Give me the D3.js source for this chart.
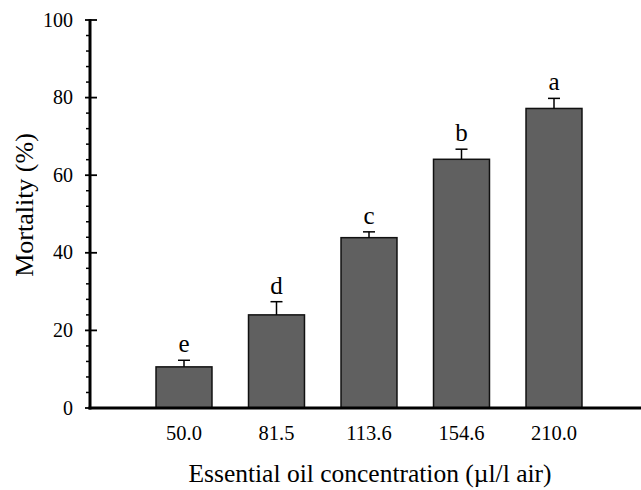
<!DOCTYPE html>
<html>
<head>
<meta charset="utf-8">
<script src="https://cdn.jsdelivr.net/npm/d3@7"></script>
<style>
  body { margin: 0; background: #fff; }
  text { font-family: "Liberation Serif", "Times New Roman", serif; fill: #000; }
</style>
</head>
<body>
<div id="chart"></div>
<script>
// chart data
const concentrations = ["50.0", "81.5", "113.6", "154.6", "210.0"];
const mortality = [10.6, 24.0, 43.9, 64.1, 77.2];
const errors = [1.7, 3.4, 1.5, 2.6, 2.6];
const letters = ["e", "d", "c", "b", "a"];
const yTicks = [0, 20, 40, 60, 80, 100];

const width = 641, height = 490;

let svg = d3.select("#chart")
    .append("svg")
    .attr("width", width)
    .attr("height", height);

let x = d3.scaleBand()
    .domain(concentrations)
    .range([137.75, 600.25])
    .paddingInner(0.395)
    .paddingOuter(0.1975);

let y = d3.scaleLinear()
    .domain([0, 100])
    .range([408, 20]);

const axisX = 90;

// minor ticks every 4
let minor = d3.range(0, 101, 4).filter(v => v % 20 !== 0);
svg.append("g").selectAll("line").data(minor).enter()
    .append("line")
    .attr("x1", axisX - 4).attr("x2", axisX)
    .attr("y1", d => y(d)).attr("y2", d => y(d))
    .attr("stroke", "#000").attr("stroke-width", 1.5);

// major ticks crossing the axis
svg.append("g").selectAll("line").data(yTicks).enter()
    .append("line")
    .attr("x1", axisX - 5).attr("x2", axisX + 7)
    .attr("y1", d => y(d)).attr("y2", d => y(d))
    .attr("stroke", "#000").attr("stroke-width", 1.8);

svg.append("g").selectAll("text").data(yTicks).enter()
    .append("text")
    .attr("x", 73)
    .attr("y", d => y(d))
    .attr("dy", "0.33em")
    .style("text-anchor", "end")
    .style("font-size", "20px")
    .text(d => d);

// bars
svg.append("g").selectAll("rect").data(mortality).enter()
    .append("rect")
    .attr("x", (d, i) => x(concentrations[i]))
    .attr("y", d => y(d))
    .attr("width", x.bandwidth())
    .attr("height", d => y(0) - y(d))
    .attr("fill", "#606060")
    .attr("stroke", "#111")
    .attr("stroke-width", 1.5);

// error bars (upper only)
let err = svg.append("g");
mortality.forEach(function(v, i) {
    let cx = x(concentrations[i]) + x.bandwidth() / 2;
    err.append("line")
        .attr("x1", cx).attr("x2", cx)
        .attr("y1", y(v)).attr("y2", y(v + errors[i]))
        .attr("stroke", "#000").attr("stroke-width", 1.5);
    err.append("line")
        .attr("x1", cx - 6).attr("x2", cx + 6)
        .attr("y1", y(v + errors[i])).attr("y2", y(v + errors[i]))
        .attr("stroke", "#000").attr("stroke-width", 1.5);
    err.append("text")
        .attr("x", cx)
        .attr("y", y(v + errors[i]) - 8)
        .style("text-anchor", "middle")
        .style("font-size", "25px")
        .text(letters[i]);
});

// axes lines
svg.append("line")
    .attr("x1", axisX).attr("x2", axisX)
    .attr("y1", y(100) - 1).attr("y2", y(0) + 1.5)
    .attr("stroke", "#000").attr("stroke-width", 3);
svg.append("line")
    .attr("x1", axisX - 1.5).attr("x2", width)
    .attr("y1", y(0)).attr("y2", y(0))
    .attr("stroke", "#000").attr("stroke-width", 3);

// x tick labels
svg.append("g").selectAll("text").data(concentrations).enter()
    .append("text")
    .attr("x", d => x(d) + x.bandwidth() / 2)
    .attr("y", 440)
    .style("text-anchor", "middle")
    .style("font-size", "20.5px")
    .text(d => d);

// axis titles
svg.append("text")
    .attr("x", 370)
    .attr("y", 482)
    .style("text-anchor", "middle")
    .style("font-size", "25.5px")
    .text("Essential oil concentration (µl/l air)");

svg.append("text")
    .attr("transform", "translate(33, 205) rotate(-90)")
    .style("text-anchor", "middle")
    .style("font-size", "26px")
    .text("Mortality (%)");
</script>
</body>
</html>
